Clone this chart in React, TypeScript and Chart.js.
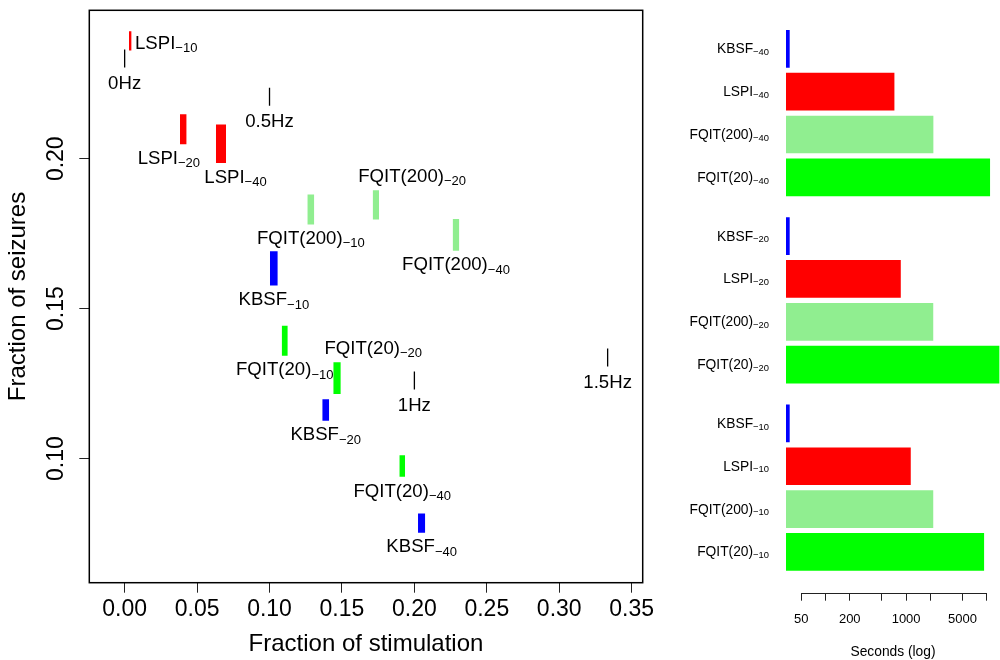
import React, { useEffect, useRef } from 'react';
import { Chart, registerables } from 'chart.js';

Chart.register(...registerables);

const FONT = '"Liberation Sans", Arial, Helvetica, sans-serif';
const RED = '#FF0000';
const LIGHTGREEN = '#90EE90';
const GREEN = '#00FF00';
const BLUE = '#0000FF';

// ---------- Left panel data ----------
const POLICY_NAMES = ['LSPI', 'LSPI', 'LSPI', 'FQIT(200)', 'FQIT(200)', 'FQIT(200)', 'FQIT(20)', 'FQIT(20)', 'FQIT(20)', 'KBSF', 'KBSF', 'KBSF'];
const POLICY_SUBS = ['\u221210', '\u221220', '\u221240', '\u221210', '\u221220', '\u221240', '\u221210', '\u221220', '\u221240', '\u221210', '\u221220', '\u221240'];
const POLICY_COLORS = [RED, RED, RED, LIGHTGREEN, LIGHTGREEN, LIGHTGREEN, GREEN, GREEN, GREEN, BLUE, BLUE, BLUE];
const STIM_MEAN = [0.0039, 0.0405, 0.0665, 0.1285, 0.1734, 0.2287, 0.1105, 0.1466, 0.1916, 0.1030, 0.1388, 0.2050];
const STIM_SD = [0.0009, 0.0023, 0.0035, 0.0024, 0.0022, 0.0023, 0.0021, 0.0026, 0.0020, 0.0027, 0.0024, 0.0025];
const SEIZ_MEAN = [0.2393, 0.2098, 0.2050, 0.1831, 0.1846, 0.1746, 0.1393, 0.1268, 0.0975, 0.1634, 0.1162, 0.0785];
const SEIZ_SD = [0.0032, 0.0050, 0.0064, 0.0050, 0.0049, 0.0053, 0.0050, 0.0053, 0.0036, 0.0057, 0.0036, 0.0032];
const LABEL_POS = ['right', 'below', 'below', 'below', 'above', 'below', 'below', 'above', 'below', 'below', 'below', 'below'];
const LABEL_DX = [0, -0.01, 0.01, 0, 0.025, 0, 0, 0.025, 0, 0, 0, 0];

const HZ_LABELS = ['0Hz', '0.5Hz', '1Hz', '1.5Hz'];
const HZ_STIM = [0, 0.1, 0.2, 0.3334];
const HZ_SEIZ = [0.2334, 0.2207, 0.126, 0.1337];

const X_TICKS = [0, 0.05, 0.1, 0.15, 0.2, 0.25, 0.3, 0.35];
const Y_TICKS = [0.1, 0.15, 0.2];

// ---------- Right panel data ----------
const TIME_NAMES = ['KBSF', 'LSPI', 'FQIT(200)', 'FQIT(20)', 'KBSF', 'LSPI', 'FQIT(200)', 'FQIT(20)', 'KBSF', 'LSPI', 'FQIT(200)', 'FQIT(20)'];
const TIME_SUBS = ['\u221240', '\u221240', '\u221240', '\u221240', '\u221220', '\u221220', '\u221220', '\u221220', '\u221210', '\u221210', '\u221210', '\u221210'];
const TIME_COLORS = [BLUE, RED, LIGHTGREEN, GREEN, BLUE, RED, LIGHTGREEN, GREEN, BLUE, RED, LIGHTGREEN, GREEN];
const TIME_GROUP = [0, 0, 0, 0, 1, 1, 1, 1, 2, 2, 2, 2];
const SECONDS = [36, 716, 2178, 10990, 36, 859, 2170, 14330, 36, 1142, 2170, 9270];
const SEC_TICKS = [50, 100, 200, 500, 1000, 2000, 5000, 10000];
const SEC_TICK_LABELS = ['50', '', '200', '', '1000', '', '5000', ''];

const GROUP_PITCH = 4.37;

function drawRich(ctx: CanvasRenderingContext2D, x: number, capY: number, main: string, sub: string, size: number, subSize: number, shift: number, align: string) {
  ctx.save();
  ctx.font = `${size}px ${FONT}`;
  const w1 = ctx.measureText(main).width;
  ctx.font = `${subSize}px ${FONT}`;
  const w2 = sub ? ctx.measureText(sub).width : 0;
  const total = w1 + w2;
  const x0 = align === 'left' ? x : align === 'center' ? x - total / 2 : x - total;
  const base = capY + 0.358 * size;
  ctx.textBaseline = 'alphabetic';
  ctx.textAlign = 'left';
  ctx.fillStyle = '#000';
  ctx.font = `${size}px ${FONT}`;
  ctx.fillText(main, x0, base);
  if (sub) {
    ctx.font = `${subSize}px ${FONT}`;
    ctx.fillText(sub, x0 + w1, base + shift);
  }
  ctx.restore();
}

function LeftChart() {
  const ref = useRef<HTMLCanvasElement>(null);
  useEffect(() => {
    const datasets: any[] = [];
    for (let i = 0; i < STIM_MEAN.length; i++) {
      const x1 = STIM_MEAN[i] - STIM_SD[i];
      const x2 = STIM_MEAN[i] + STIM_SD[i];
      const yTop = SEIZ_MEAN[i] + SEIZ_SD[i];
      const yBot = SEIZ_MEAN[i] - SEIZ_SD[i];
      const c = POLICY_COLORS[i];
      datasets.push({
        data: [{ x: x1, y: yTop }, { x: x2, y: yTop }],
        showLine: true, borderWidth: 0, borderColor: c, backgroundColor: c,
        pointRadius: 0, fill: '+1', tension: 0,
      });
      datasets.push({
        data: [{ x: x1, y: yBot }, { x: x2, y: yBot }],
        showLine: true, borderWidth: 0, borderColor: c, backgroundColor: c,
        pointRadius: 0, fill: false, tension: 0,
      });
    }
    datasets.push({
      data: HZ_STIM.map((v, i) => ({ x: v, y: HZ_SEIZ[i] })),
      showLine: false,
      pointStyle: 'line',
      pointRotation: 90,
      pointRadius: 9,
      pointBorderColor: '#000',
      pointBorderWidth: 1.3,
      borderColor: '#000',
      fill: false,
    });

    const decor = {
      id: 'leftDecor',
      afterDraw(chart: any) {
        const { ctx, chartArea: a, scales } = chart;
        const xs = scales.x, ys = scales.y;
        ctx.save();
        ctx.strokeStyle = '#000';
        ctx.lineWidth = 1.5;
        ctx.strokeRect(a.left, a.top, a.right - a.left, a.bottom - a.top);
        ctx.font = `23px ${FONT}`;
        ctx.fillStyle = '#000';
        ctx.textAlign = 'center';
        ctx.textBaseline = 'middle';
        Y_TICKS.forEach((v) => {
          ctx.save();
          ctx.translate(a.left - 32.6, ys.getPixelForValue(v));
          ctx.rotate(-Math.PI / 2);
          ctx.fillText(v.toFixed(2), 0, 0);
          ctx.restore();
        });
        ctx.restore();
        for (let i = 0; i < STIM_MEAN.length; i++) {
          const pos = LABEL_POS[i];
          const px = xs.getPixelForValue(STIM_MEAN[i] + LABEL_DX[i]);
          if (pos === 'right') {
            const py = ys.getPixelForValue(SEIZ_MEAN[i]);
            drawRich(ctx, xs.getPixelForValue(STIM_MEAN[i]) + 4.7, py + 1, POLICY_NAMES[i], POLICY_SUBS[i], 18.6, 13, 3.3, 'left');
          } else if (pos === 'above') {
            const py = ys.getPixelForValue(SEIZ_MEAN[i] + SEIZ_SD[i]);
            drawRich(ctx, px, py - 15, POLICY_NAMES[i], POLICY_SUBS[i], 18.6, 13, 3.3, 'center');
          } else {
            const py = ys.getPixelForValue(SEIZ_MEAN[i] - SEIZ_SD[i]);
            drawRich(ctx, px, py + 13, POLICY_NAMES[i], POLICY_SUBS[i], 18.6, 13, 3.3, 'center');
          }
        }
        HZ_LABELS.forEach((t, i) => {
          drawRich(ctx, xs.getPixelForValue(HZ_STIM[i]), ys.getPixelForValue(HZ_SEIZ[i]) + 23.5, t, '', 18.6, 13, 0, 'center');
        });
      },
    };

    const chart = new Chart(ref.current as HTMLCanvasElement, {
      type: 'scatter',
      data: { datasets },
      options: {
        animation: false,
        responsive: false,
        devicePixelRatio: 1,
        events: [],
        layout: { padding: { left: 0, right: 17.3, top: 10, bottom: 0 } },
        plugins: { legend: { display: false }, tooltip: { enabled: false } },
        scales: {
          x: {
            type: 'linear',
            min: -0.0244,
            max: 0.3576,
            afterBuildTicks: (s: any) => { s.ticks = X_TICKS.map((v) => ({ value: v })); },
            afterFit: (s: any) => { s.height = 77.3; },
            ticks: {
              callback: (v: any) => Number(v).toFixed(2),
              font: { size: 23, family: FONT },
              color: '#000',
              padding: 3.5,
              maxRotation: 0,
              autoSkip: false,
            },
            grid: { display: true, drawOnChartArea: false, drawTicks: true, tickLength: 10, color: '#222', lineWidth: 1 },
            border: { display: false },
            title: { display: true, text: 'Fraction of stimulation', font: { size: 24, family: FONT }, color: '#000', padding: { top: 0, bottom: 1 } },
          },
          y: {
            type: 'linear',
            min: 0.0586,
            max: 0.2495,
            afterBuildTicks: (s: any) => { s.ticks = Y_TICKS.map((v) => ({ value: v })); },
            afterFit: (s: any) => { s.width = 89.3; },
            ticks: { display: false },
            grid: { display: true, drawOnChartArea: false, drawTicks: true, tickLength: 10, color: '#222', lineWidth: 1 },
            border: { display: false },
            title: { display: true, text: 'Fraction of seizures', font: { size: 24, family: FONT }, color: '#000', padding: { top: 4, bottom: 0 } },
          },
        },
      } as any,
      plugins: [decor],
    });
    return () => chart.destroy();
  }, []);
  return <canvas ref={ref} width={660} height={660} style={{ position: 'absolute', left: 0, top: 0, width: 660, height: 660 }} />;
}

function RightChart() {
  const ref = useRef<HTMLCanvasElement>(null);
  useEffect(() => {
    const base = 0.9 * Math.min(...SECONDS);
    const positions = SECONDS.map((_, i) => TIME_GROUP[i] * GROUP_PITCH + (i % 4));
    const decor = {
      id: 'rightDecor',
      afterDraw(chart: any) {
        const { ctx, chartArea: a, scales } = chart;
        const xs = scales.x, ys = scales.y;
        ctx.save();
        ctx.strokeStyle = '#222';
        ctx.lineWidth = 1;
        ctx.beginPath();
        ctx.moveTo(xs.getPixelForValue(SEC_TICKS[0]), Math.round(a.bottom) + 0.5);
        ctx.lineTo(xs.getPixelForValue(SEC_TICKS[SEC_TICKS.length - 1]), Math.round(a.bottom) + 0.5);
        ctx.stroke();
        ctx.restore();
        for (let i = 0; i < SECONDS.length; i++) {
          drawRich(ctx, a.left - 17, ys.getPixelForValue(positions[i]) - 0.5, TIME_NAMES[i], TIME_SUBS[i], 13.8, 9.4, 1.8, 'right');
        }
      },
    };
    const chart = new Chart(ref.current as HTMLCanvasElement, {
      type: 'bar',
      data: {
        datasets: [{
          data: SECONDS.map((v, i) => ({ x: [base, v], y: positions[i] })),
          backgroundColor: TIME_COLORS,
          borderWidth: 0,
          barPercentage: 0.88,
          categoryPercentage: 1,
        }],
      },
      options: {
        indexAxis: 'y',
        animation: false,
        responsive: false,
        devicePixelRatio: 1,
        events: [],
        layout: { padding: { left: 126, right: 0, top: 8.4, bottom: 0 } },
        plugins: { legend: { display: false }, tooltip: { enabled: false } },
        scales: {
          x: {
            type: 'logarithmic',
            min: base,
            max: 14600,
            afterBuildTicks: (s: any) => { s.ticks = SEC_TICKS.map((v) => ({ value: v })); },
            afterFit: (s: any) => { s.height = 67.3; },
            ticks: {
              callback: (_v: any, i: number) => SEC_TICK_LABELS[i],
              font: { size: 13, family: FONT },
              color: '#000',
              padding: 10.5,
              maxRotation: 0,
              autoSkip: false,
            },
            grid: { display: true, drawOnChartArea: false, drawTicks: true, tickLength: 8, color: '#222', lineWidth: 1 },
            border: { display: false },
            title: { display: true, text: 'Seconds (log)', font: { size: 13.8, family: FONT }, color: '#000', padding: { top: 0, bottom: 0 } },
          },
          y: {
            type: 'linear',
            min: -0.942,
            max: 12.69,
            reverse: true,
            offset: false,
            display: false,
            afterBuildTicks: (s: any) => { s.ticks = positions.map((v) => ({ value: v })); },
          },
        },
      } as any,
      plugins: [decor],
    });
    return () => chart.destroy();
  }, []);
  return <canvas ref={ref} width={340} height={660} style={{ position: 'absolute', left: 660, top: 0, width: 340, height: 660 }} />;
}

export default function App() {
  return (
    <div style={{ position: 'fixed', left: 0, top: 0, width: 1000, height: 660, background: '#fff', overflow: 'hidden' }}>
      <LeftChart />
      <RightChart />
    </div>
  );
}
